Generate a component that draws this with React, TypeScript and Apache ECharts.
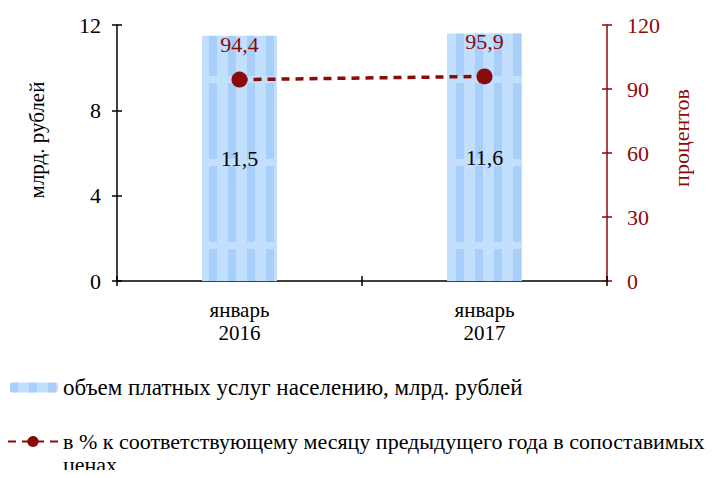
import React, { useEffect, useRef } from "react";
import * as echarts from "echarts";

const categories = ["январь\n2016", "январь\n2017"];
const volumeValues = [11.5, 11.6];
const percentValues = [94.4, 95.9];
const barName = "объем платных услуг населению, млрд. рублей";
const lineName = "в % к соответствующему месяцу предыдущего года в сопоставимых ценах";
const lineLegendText = " \nв % к соответствующему месяцу предыдущего года в сопоставимых\nценах";
const leftAxisName = "млрд. рублей";
const rightAxisName = "процентов";

const FONT = "Liberation Serif";
const RED = "#8B0A0A";

const fmt = (p: any) => String(p.value).replace(".", ",");

export default function App() {
  const ref = useRef<HTMLDivElement>(null);
  useEffect(() => {
    const chart = echarts.init(ref.current!, null, { renderer: "svg" });
    chart.setOption({
      animation: false,
      aria: { enabled: true, decal: { show: true } },
      textStyle: { fontFamily: FONT },
      grid: { left: 117, right: 109, top: 25, bottom: 197, containLabel: false },
      legend: [
        {
          data: [barName],
          left: 10,
          top: 376,
          padding: 0,
          itemWidth: 48,
          itemHeight: 10,
          itemGap: 5,
          textStyle: { fontSize: 23, fontFamily: FONT, color: "#000" },
        },
        {
          data: [lineName],
          left: 7,
          top: 407,
          padding: 0,
          itemWidth: 50,
          itemHeight: 14,
          formatter: () => lineLegendText,
          textStyle: {
            fontSize: 22,
            lineHeight: 23,
            fontFamily: FONT,
            color: "#000",
          },
        },
      ],
      xAxis: [
        {
          type: "category",
          data: categories,
          position: "bottom",
          axisLine: { lineStyle: { color: "#000", width: 1.5 } },
          axisTick: { show: true, length: 5, lineStyle: { color: "#000", width: 1.5 } },
          axisLabel: { fontSize: 21, color: "#000", margin: 17, lineHeight: 23, fontFamily: FONT },
        },
        {
          type: "category",
          data: categories,
          position: "bottom",
          axisLine: { show: false },
          axisTick: { show: true, inside: true, length: 5, lineStyle: { color: "#000", width: 1.5 } },
          axisLabel: { show: false },
        },
      ],
      yAxis: [
        {
          type: "value",
          position: "left",
          min: 0,
          max: 12,
          interval: 4,
          splitLine: { show: false },
          axisLine: { show: true, lineStyle: { color: "#000", width: 1.5 } },
          axisTick: { show: true, length: 5, lineStyle: { color: "#000", width: 1.5 } },
          axisLabel: { fontSize: 22, color: "#000", margin: 16, fontFamily: FONT },
          name: leftAxisName,
          nameLocation: "middle",
          nameGap: 70,
          nameRotate: 90,
          nameTextStyle: { fontSize: 21, color: "#000", fontFamily: FONT, padding: [0, 0, 0, 26] },
        },
        {
          type: "value",
          position: "right",
          min: 0,
          max: 120,
          interval: 30,
          splitLine: { show: false },
          axisLine: { show: true, lineStyle: { color: RED, width: 1.5 } },
          axisTick: { show: true, length: 5, lineStyle: { color: RED, width: 1.5 } },
          axisLabel: { fontSize: 22, color: RED, margin: 20, fontFamily: FONT },
          name: rightAxisName,
          nameLocation: "middle",
          nameGap: 57,
          nameRotate: 90,
          nameTextStyle: { fontSize: 22, color: RED, fontFamily: FONT, padding: [0, 0, 0, 30] },
        },
        {
          type: "value",
          position: "left",
          min: 0,
          max: 12,
          interval: 4,
          splitLine: { show: false },
          axisLine: { show: false },
          axisTick: { show: true, inside: true, length: 5, lineStyle: { color: "#000", width: 1.5 } },
          axisLabel: { show: false },
        },
        {
          type: "value",
          position: "right",
          min: 0,
          max: 120,
          interval: 30,
          splitLine: { show: false },
          axisLine: { show: false },
          axisTick: { show: true, inside: true, length: 5, lineStyle: { color: RED, width: 1.5 } },
          axisLabel: { show: false },
        },
      ],
      series: [
        {
          name: barName,
          type: "bar",
          data: volumeValues,
          xAxisIndex: 0,
          yAxisIndex: 0,
          barWidth: 75,
          itemStyle: {
            color: "#c3dffe",
            decal: {
              symbol: "rect",
              symbolSize: 1,
              color: "rgba(125,182,245,0.4)",
              dashArrayX: [8, 11],
              dashArrayY: [76, 7],
              rotation: 0,
            },
          },
          label: {
            show: true,
            position: "inside",
            fontSize: 22,
            color: "#000",
            fontFamily: FONT,
            formatter: fmt,
          },
        },
        {
          name: lineName,
          type: "line",
          data: percentValues,
          xAxisIndex: 0,
          yAxisIndex: 1,
          symbol: "circle",
          symbolSize: 16,
          lineStyle: { color: RED, width: 3.5, type: [8, 6] },
          itemStyle: { color: RED, decal: "none" },
          label: {
            show: true,
            position: "top",
            distance: 16,
            fontSize: 22,
            color: RED,
            fontFamily: FONT,
            formatter: fmt,
          },
        },
      ],
    });
    return () => chart.dispose();
  }, []);
  return <div ref={ref} style={{ width: 716, height: 478, margin: -8 }} />;
}
